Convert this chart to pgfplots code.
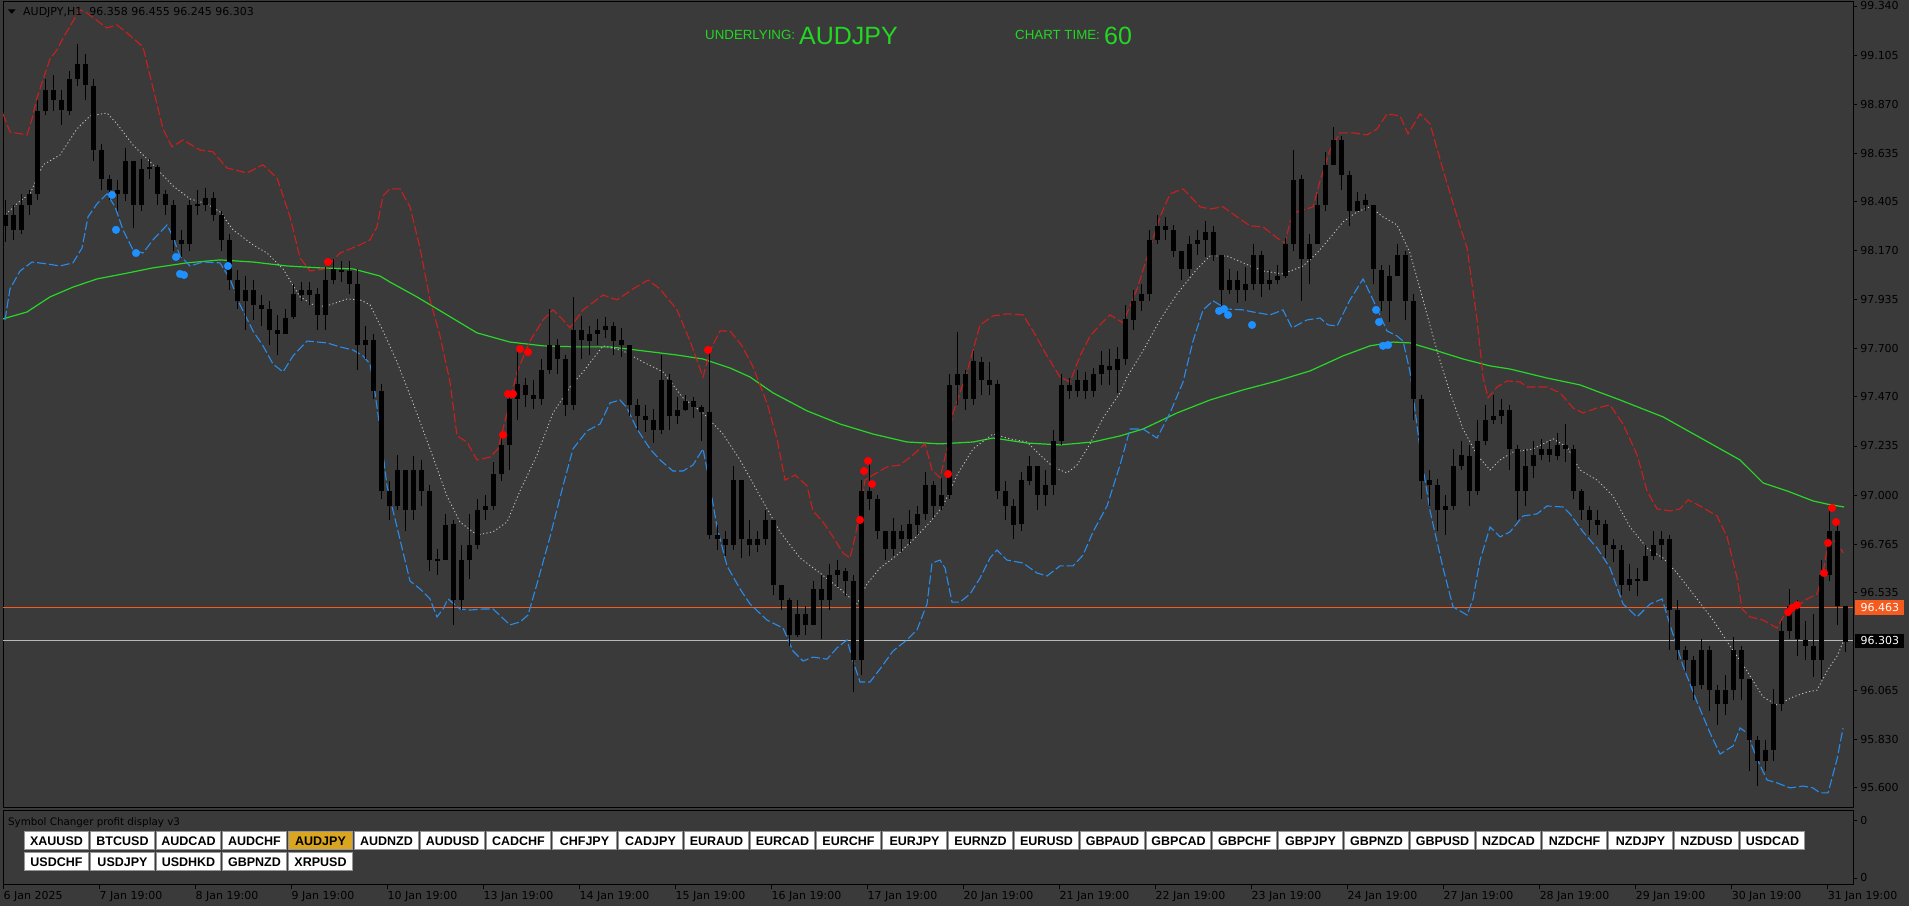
\documentclass[border=0pt]{standalone}
\usepackage{pgfplots}
\pgfplotsset{compat=1.18}
\usepackage{pgfplotstable}
\usepackage{fontspec}
\setmainfont{DejaVu Sans}
\newfontfamily\lib{Liberation Sans}
\definecolor{bg}{RGB}{58,58,58}
\definecolor{bandred}{RGB}{205,30,30}
\definecolor{bandblue}{RGB}{40,140,235}
\definecolor{midgray}{RGB}{190,190,190}
\definecolor{magreen}{RGB}{40,215,40}
\definecolor{hdrgreen}{RGB}{35,215,35}
\definecolor{dotred}{RGB}{255,0,0}
\definecolor{dotblue}{RGB}{30,144,255}
\definecolor{lineorange}{RGB}{245,90,30}
\definecolor{lineGray}{RGB}{185,185,185}
\definecolor{gold}{RGB}{218,165,32}
\definecolor{btnborder}{RGB}{150,150,150}

\pgfplotstableread{
i o h l c
0.5 98.29 98.41 98.21 98.34
2.5 98.34 98.39 98.22 98.27
4.5 98.27 98.44 98.25 98.39
6.5 98.39 98.46 98.34 98.44
8.5 98.44 98.89 98.41 98.84
10.5 98.84 98.99 98.82 98.94
12.5 98.94 99.01 98.84 98.89
14.5 98.89 98.94 98.77 98.84
16.5 98.84 99.03 98.82 98.99
18.5 98.99 99.16 98.96 99.06
20.5 99.06 99.11 98.89 98.96
22.5 98.96 98.99 98.60 98.65
24.5 98.65 98.68 98.46 98.51
26.5 98.51 98.53 98.41 98.46
28.5 98.46 98.51 98.36 98.44
30.5 98.44 98.66 98.41 98.60
32.5 98.60 98.60 98.28 98.39
34.5 98.39 98.61 98.36 98.56
36.5 98.56 98.61 98.51 98.57
38.5 98.57 98.58 98.39 98.44
40.5 98.44 98.46 98.34 98.39
42.5 98.39 98.41 98.17 98.22
44.5 98.22 98.27 98.14 98.20
46.5 98.20 98.41 98.17 98.39
48.5 98.39 98.46 98.34 98.39
50.5 98.39 98.47 98.36 98.42
52.5 98.42 98.45 98.31 98.34
54.5 98.34 98.36 98.17 98.22
56.5 98.22 98.25 97.98 98.03
58.5 98.03 98.08 97.89 97.93
60.5 97.93 98.05 97.79 97.98
62.5 97.98 98.03 97.84 97.91
64.5 97.91 97.96 97.81 97.89
66.5 97.89 97.93 97.72 97.79
68.5 97.79 97.86 97.67 97.77
70.5 97.77 97.89 97.77 97.85
72.5 97.85 98.01 97.84 97.96
74.5 97.96 98.02 97.93 97.98
76.5 97.98 98.02 97.91 97.96
78.5 97.96 97.99 97.79 97.86
80.5 97.86 98.09 97.79 98.03
82.5 98.03 98.13 98.01 98.08
84.5 98.08 98.12 98.02 98.07
86.5 98.07 98.12 97.96 98.01
88.5 98.01 98.08 97.60 97.72
90.5 97.72 97.81 97.65 97.74
92.5 97.74 97.77 97.46 97.50
94.5 97.50 97.53 96.98 97.02
96.5 97.02 97.07 96.88 96.95
98.5 96.95 97.19 96.93 97.12
100.5 97.12 97.12 96.83 96.93
102.5 96.93 97.19 96.88 97.12
104.5 97.12 97.17 96.95 97.02
106.5 97.02 97.05 96.64 96.69
108.5 96.69 96.74 96.62 96.69
110.5 96.69 96.91 96.69 96.86
112.5 96.86 96.88 96.38 96.50
114.5 96.50 96.76 96.45 96.69
116.5 96.69 96.91 96.60 96.76
118.5 96.76 96.98 96.74 96.93
120.5 96.93 97.00 96.88 96.95
122.5 96.95 97.16 96.93 97.10
124.5 97.10 97.29 97.07 97.24
126.5 97.24 97.50 97.12 97.46
128.5 97.46 97.70 97.36 97.53
130.5 97.53 97.56 97.42 97.48
132.5 97.48 97.55 97.41 97.46
134.5 97.46 97.65 97.43 97.60
136.5 97.60 97.89 97.58 97.72
138.5 97.72 97.75 97.58 97.65
140.5 97.65 97.67 97.38 97.43
142.5 97.43 97.95 97.41 97.79
144.5 97.79 97.86 97.65 97.74
146.5 97.74 97.81 97.67 97.77
148.5 97.77 97.84 97.72 97.79
150.5 97.79 97.85 97.75 97.81
152.5 97.81 97.83 97.67 97.74
154.5 97.74 97.80 97.66 97.72
156.5 97.72 97.72 97.38 97.43
158.5 97.43 97.46 97.31 97.38
160.5 97.38 97.43 97.30 97.36
162.5 97.36 97.41 97.25 97.31
164.5 97.31 97.67 97.29 97.55
166.5 97.55 97.58 97.31 97.38
168.5 97.38 97.47 97.34 97.41
170.5 97.41 97.48 97.40 97.45
172.5 97.45 97.47 97.37 97.42
174.5 97.42 97.43 97.26 97.40
176.5 97.40 97.69 96.79 96.81
178.5 96.81 96.86 96.74 96.79
180.5 96.79 96.83 96.71 96.76
182.5 96.76 97.14 96.74 97.07
184.5 97.07 97.07 96.70 96.79
186.5 96.79 96.88 96.71 96.76
188.5 96.76 96.83 96.73 96.79
190.5 96.79 96.93 96.76 96.88
192.5 96.88 96.88 96.52 96.57
194.5 96.57 96.57 96.45 96.50
196.5 96.50 96.51 96.28 96.33
198.5 96.33 96.50 96.32 96.43
200.5 96.43 96.47 96.33 96.38
202.5 96.38 96.59 96.38 96.55
204.5 96.55 96.62 96.31 96.50
206.5 96.50 96.67 96.45 96.62
208.5 96.62 96.69 96.56 96.64
210.5 96.64 96.65 96.52 96.59
212.5 96.59 96.62 96.06 96.21
214.5 96.21 97.07 96.14 97.02
216.5 97.02 97.16 96.93 96.98
218.5 96.98 97.00 96.79 96.83
220.5 96.83 96.83 96.69 96.74
222.5 96.74 96.89 96.71 96.83
224.5 96.83 96.86 96.73 96.79
226.5 96.79 96.93 96.76 96.86
228.5 96.86 96.95 96.81 96.91
230.5 96.91 97.11 96.88 97.05
232.5 97.05 97.07 96.89 96.95
234.5 96.95 97.08 96.93 97.00
236.5 97.00 97.58 96.98 97.53
238.5 97.53 97.78 97.43 97.58
240.5 97.58 97.60 97.41 97.46
242.5 97.46 97.69 97.43 97.64
244.5 97.64 97.66 97.48 97.55
246.5 97.55 97.64 97.48 97.53
248.5 97.53 97.55 96.98 97.02
250.5 97.02 97.07 96.88 96.95
252.5 96.95 96.98 96.79 96.86
254.5 96.86 97.11 96.83 97.07
256.5 97.07 97.19 97.05 97.14
258.5 97.14 97.14 96.93 97.00
260.5 97.00 97.12 96.95 97.05
262.5 97.05 97.31 97.00 97.26
264.5 97.26 97.58 97.24 97.53
266.5 97.53 97.56 97.46 97.50
268.5 97.50 97.60 97.47 97.55
270.5 97.55 97.59 97.46 97.50
272.5 97.50 97.61 97.47 97.58
274.5 97.58 97.69 97.53 97.62
276.5 97.62 97.70 97.53 97.60
278.5 97.60 97.71 97.49 97.65
280.5 97.65 97.91 97.62 97.84
282.5 97.84 97.98 97.79 97.93
284.5 97.93 98.01 97.88 97.96
286.5 97.96 98.27 97.93 98.22
288.5 98.22 98.34 98.20 98.29
290.5 98.29 98.33 98.22 98.27
292.5 98.27 98.29 98.14 98.17
294.5 98.17 98.17 98.03 98.08
296.5 98.08 98.24 98.05 98.20
298.5 98.20 98.27 98.15 98.22
300.5 98.22 98.31 98.14 98.26
302.5 98.26 98.29 98.12 98.15
304.5 98.15 98.15 97.89 97.98
306.5 97.98 98.08 97.96 98.03
308.5 98.03 98.07 97.92 97.98
310.5 97.98 98.09 97.93 98.01
312.5 98.01 98.20 97.98 98.15
314.5 98.15 98.17 97.95 98.01
316.5 98.01 98.08 97.98 98.03
318.5 98.03 98.10 98.01 98.05
320.5 98.05 98.23 98.04 98.20
322.5 98.20 98.65 98.17 98.51
324.5 98.51 98.53 97.93 98.13
326.5 98.13 98.25 98.01 98.20
328.5 98.20 98.44 98.20 98.39
330.5 98.39 98.64 98.36 98.58
332.5 98.58 98.76 98.58 98.70
334.5 98.70 98.72 98.46 98.53
336.5 98.53 98.55 98.29 98.36
338.5 98.36 98.45 98.36 98.41
340.5 98.41 98.44 98.36 98.39
342.5 98.39 98.39 98.01 98.08
344.5 98.08 98.10 97.88 97.93
346.5 97.93 98.10 97.83 98.05
348.5 98.05 98.20 98.05 98.15
350.5 98.15 98.17 97.84 97.93
352.5 97.93 97.96 97.36 97.46
354.5 97.46 97.48 96.98 97.07
356.5 97.07 97.12 96.95 97.05
358.5 97.05 97.08 96.83 96.93
360.5 96.93 97.00 96.81 96.95
362.5 96.95 97.22 96.93 97.14
364.5 97.14 97.26 97.12 97.19
366.5 97.19 97.24 96.95 97.02
368.5 97.02 97.36 97.00 97.26
370.5 97.26 97.43 97.24 97.36
372.5 97.36 97.48 97.34 97.38
374.5 97.38 97.46 97.34 97.41
376.5 97.41 97.43 97.12 97.22
378.5 97.22 97.24 96.88 97.02
380.5 97.02 97.22 96.95 97.14
382.5 97.14 97.26 97.08 97.19
384.5 97.19 97.27 97.17 97.22
386.5 97.22 97.26 97.16 97.19
388.5 97.19 97.30 97.17 97.24
390.5 97.24 97.34 97.16 97.22
392.5 97.22 97.24 96.98 97.02
394.5 97.02 97.03 96.88 96.93
396.5 96.93 96.95 96.81 96.88
398.5 96.88 96.93 96.81 96.86
400.5 96.86 96.88 96.70 96.76
402.5 96.76 96.79 96.68 96.74
404.5 96.74 96.76 96.52 96.57
406.5 96.57 96.67 96.54 96.60
408.5 96.60 96.65 96.52 96.59
410.5 96.59 96.76 96.59 96.71
412.5 96.71 96.83 96.69 96.76
414.5 96.76 96.83 96.69 96.79
416.5 96.79 96.81 96.26 96.45
418.5 96.45 96.50 96.21 96.26
420.5 96.26 96.28 96.16 96.21
422.5 96.21 96.23 96.02 96.09
424.5 96.09 96.31 96.07 96.26
426.5 96.26 96.28 95.97 96.07
428.5 96.07 96.09 95.90 96.00
430.5 96.00 96.14 95.95 96.07
432.5 96.07 96.32 96.02 96.26
434.5 96.26 96.28 96.02 96.12
436.5 96.12 96.12 95.68 95.83
438.5 95.83 95.85 95.61 95.73
440.5 95.73 95.83 95.68 95.78
442.5 95.78 96.07 95.73 96.00
444.5 96.00 96.40 95.97 96.35
446.5 96.35 96.55 96.31 96.47
448.5 96.47 96.50 96.23 96.31
450.5 96.31 96.40 96.21 96.28
452.5 96.28 96.43 96.13 96.21
454.5 96.21 96.69 96.12 96.62
456.5 96.62 96.95 96.59 96.83
458.5 96.83 96.88 96.38 96.47
460.5 96.47 96.47 96.25 96.30
}\candles

\begin{document}
\begin{tikzpicture}[x=1bp,y=1bp]
\fill[bg] (0,0) rectangle (1909,906);

% ---------------- main price window ----------------
\begin{axis}[at={(3bp,98bp)}, anchor=south west, scale only axis,
  width=1850bp, height=806bp,
  xmin=0, xmax=462.5, ymin=95.503, ymax=99.359,
  axis line style={black, line width=1bp},
  xtick=\empty,
  ytick={99.340,99.105,98.870,98.635,98.405,98.170,97.935,97.700,97.470,97.235,97.000,96.765,96.535,96.065,95.830,95.600},
  yticklabels={99.340,99.105,98.870,98.635,98.405,98.170,97.935,97.700,97.470,97.235,97.000,96.765,96.535,96.065,95.830,95.600},
  ytick pos=right, yticklabel pos=right, tick align=outside,
  major tick length=4bp, tick style={black, line width=0.8bp},
  yticklabel style={anchor=west, inner sep=0pt, xshift=3bp, text=black, font=\fontsize{11bp}{13bp}\selectfont},
  clip mode=individual]

% horizontal price lines
\addplot[lineorange, line width=1bp, forget plot] coordinates {(0,96.463) (462.5,96.463)};
\addplot[lineGray, line width=1bp, forget plot] coordinates {(0,96.303) (462.5,96.303)};

% moving average (green)
\addplot[magreen, line width=1.2bp] coordinates {
(0,97.843)(6,97.876)(11.75,97.948)(17.5,97.995)(23.5,98.034)(30,98.058)(37.5,98.087)(46,98.111)(54.25,98.125)(62.5,98.115)(71,98.096)(79.25,98.087)(87.5,98.082)(94.25,98.048)(96.75,98.019)(103.5,97.948)(111,97.862)(118.5,97.776)(126.75,97.732)(135,97.714)(143.5,97.709)(151.75,97.709)(160,97.690)(168.5,97.670)(175,97.651)(181.75,97.608)(186.75,97.565)(192.5,97.489)(201,97.403)(209.25,97.340)(217.5,97.292)(226,97.254)(234.25,97.245)(242.5,97.254)(247.5,97.273)(256,97.249)(264.25,97.240)(272.5,97.254)(279.25,97.283)(285,97.316)(293.5,97.393)(301.75,97.455)(310,97.503)(318.5,97.546)(326.75,97.594)(335,97.666)(341.75,97.714)(347.5,97.732)(351.75,97.728)(358.5,97.690)(365,97.651)(371.75,97.618)(376.75,97.603)(386,97.560)(394.25,97.527)(404.25,97.455)(415,97.374)(423.5,97.283)(434.25,97.168)(440,97.058)(446,97.020)(452.5,96.972)(456,96.957)(460.25,96.943)};

% middle band (gray dotted)
\addplot[midgray, line width=0.9bp, dash pattern=on 1.2bp off 2.4bp] coordinates {
(0,98.331)(4.25,98.407)(6.75,98.441)(10,98.580)(14.25,98.627)(18.5,98.752)(21.75,98.814)(26,98.828)(28.5,98.776)(32.5,98.675)(37.5,98.580)(42.5,98.479)(46.75,98.417)(51,98.393)(54.25,98.355)(57.5,98.269)(62.5,98.197)(66,98.158)(70,98.082)(74.25,97.948)(78.5,97.900)(81.75,97.910)(86,97.938)(89.25,97.934)(91.75,97.910)(95,97.785)(98.5,97.637)(102.5,97.441)(106.75,97.221)(111,96.995)(114.25,96.871)(118.5,96.809)(122.5,96.824)(126,96.871)(129.25,97.020)(133.5,97.192)(137.5,97.393)(141.75,97.517)(145,97.589)(150,97.714)(155,97.690)(160,97.637)(165,97.589)(170,97.465)(175,97.393)(180,97.292)(184.25,97.168)(189.25,96.995)(194.25,96.824)(199.25,96.699)(204.25,96.627)(209.25,96.551)(213.5,96.479)(216,96.575)(219.25,96.651)(223.5,96.713)(227.5,96.785)(231.75,96.871)(235,96.948)(238.5,97.096)(242.5,97.221)(247.5,97.292)(251.75,97.269)(256,97.254)(259.25,97.192)(262.5,97.135)(266,97.106)(268.5,97.144)(271.75,97.245)(275,97.369)(279.25,97.489)(281,97.565)(285,97.690)(289.25,97.838)(293.5,97.962)(298.5,98.082)(301.75,98.144)(306,98.144)(310,98.111)(315,98.072)(320,98.058)(325,98.096)(328.5,98.158)(331.75,98.230)(335,98.307)(338.5,98.355)(341.75,98.379)(345,98.331)(348.5,98.292)(351.75,98.158)(355,97.934)(358.5,97.690)(361.75,97.489)(365,97.316)(368.5,97.192)(371.75,97.120)(374.25,97.168)(377.5,97.206)(382.5,97.221)(387.5,97.269)(391,97.230)(394.25,97.120)(398.5,97.072)(402.5,96.995)(406.75,96.847)(411,96.747)(415,96.699)(418.5,96.627)(423.5,96.503)(427.5,96.402)(431.75,96.278)(436,96.158)(440,96.034)(443.5,95.996)(447.5,96.034)(451,96.058)(453.5,96.067)(456,96.158)(458.5,96.230)(460.25,96.307)};

% upper band (red dashed)
\addplot[bandred, line width=1.1bp, dash pattern=on 9bp off 3bp] coordinates {
(0,98.824)(1.75,98.737)(6,98.723)(7.25,98.800)(8.5,98.900)(11.75,99.087)(13.5,99.130)(14.75,99.178)(17.25,99.259)(19.25,99.321)(21,99.307)(24.25,99.259)(26,99.235)(28.5,99.249)(31,99.211)(35,99.144)(37.5,98.948)(40,98.752)(42.25,98.666)(45,98.699)(49.25,98.651)(52.5,98.642)(56,98.565)(61,98.541)(65,98.580)(68.5,98.517)(71.75,98.331)(74.25,98.135)(76.75,98.072)(80.5,98.082)(84.25,98.158)(89.25,98.197)(91.75,98.221)(93.5,98.283)(95,98.431)(96.75,98.465)(99.25,98.465)(101.75,98.379)(104.25,98.182)(106.75,97.934)(109.25,97.761)(111.75,97.541)(113.5,97.283)(116,97.254)(118.5,97.168)(121.75,97.182)(123.75,97.221)(126,97.393)(128.5,97.589)(131.75,97.737)(135,97.838)(137.5,97.886)(140,97.838)(141.75,97.800)(145,97.886)(150,97.957)(153.5,97.934)(157.5,97.986)(161.25,98.029)(164.25,97.986)(168.5,97.886)(171.75,97.737)(175,97.565)(176.75,97.690)(179.25,97.785)(181.75,97.785)(184.75,97.714)(187.5,97.613)(191,97.441)(193.5,97.269)(195.5,97.072)(198,97.096)(201,97.044)(202.5,96.924)(205,96.871)(207.5,96.800)(210,96.723)(211.75,96.699)(213,96.800)(214.25,96.924)(215.5,97.072)(217.5,97.096)(221,97.135)(224.25,97.144)(227.5,97.192)(230.5,97.245)(232.25,97.120)(234.25,97.082)(236,97.221)(237.5,97.393)(241,97.589)(244.25,97.814)(247.5,97.857)(251,97.867)(255,97.862)(257.5,97.785)(261,97.666)(264.25,97.565)(266.75,97.541)(269.25,97.666)(271.75,97.761)(274.25,97.814)(276.75,97.862)(280,97.824)(283.5,97.986)(286.75,98.182)(289.25,98.331)(291.75,98.441)(295,98.465)(296.75,98.431)(299.25,98.379)(301.75,98.369)(305,98.379)(308.5,98.331)(311.75,98.288)(315,98.283)(318.5,98.230)(320.5,98.206)(321.75,98.307)(323.5,98.355)(327.5,98.379)(329.25,98.503)(331.75,98.651)(334.25,98.733)(337.5,98.733)(341,98.723)(343.5,98.752)(346,98.824)(349.25,98.814)(351.25,98.728)(354.25,98.824)(356.75,98.776)(360,98.556)(363.5,98.331)(366,98.182)(368.5,97.838)(370,97.565)(371.25,97.465)(373.5,97.517)(376,97.546)(379.25,97.541)(381,97.517)(386,97.517)(389.25,97.489)(392.5,97.417)(395,97.393)(398.5,97.417)(401.75,97.431)(405,97.340)(408.5,97.192)(411,97.020)(413.5,96.934)(416.75,96.924)(419.25,96.934)(421.25,96.977)(424.25,96.948)(428.5,96.900)(431,96.800)(433.5,96.603)(434.75,96.455)(436.75,96.417)(440,96.402)(443.5,96.364)(445,96.417)(447.5,96.455)(451,96.503)(453.5,96.527)(455,96.627)(456.25,96.776)(458.5,96.780)(460,96.723)};

% lower band (blue dashed)
\addplot[bandblue, line width=1.1bp, dash pattern=on 9bp off 3bp] coordinates {
(0.5,97.838)(1.75,97.986)(4.25,98.072)(7.25,98.115)(11,98.106)(14.25,98.096)(17.5,98.111)(19.75,98.182)(21.25,98.331)(23.5,98.393)(26,98.441)(28,98.379)(30,98.269)(32.5,98.173)(35,98.158)(37.5,98.221)(41,98.292)(42.25,98.245)(44.25,98.144)(46.75,98.096)(50,98.115)(54.25,98.111)(56.75,98.034)(59.25,97.910)(62.5,97.785)(65,97.714)(67.5,97.627)(70,97.589)(72.5,97.666)(76,97.737)(81,97.728)(84.25,97.709)(87.5,97.694)(90,97.666)(91.75,97.627)(93,97.489)(94.25,97.316)(96,97.044)(98.5,96.847)(101.75,96.589)(104.25,96.551)(106.75,96.503)(108.5,96.417)(110,96.455)(111.25,96.503)(114.25,96.455)(116.75,96.450)(120,96.455)(122.5,96.455)(126.75,96.379)(129.25,96.393)(131.25,96.426)(133.5,96.575)(136.75,96.800)(140,97.044)(142.5,97.221)(146,97.307)(149.25,97.340)(151.75,97.441)(154.25,97.455)(156,97.417)(158.5,97.316)(161.75,97.221)(164.25,97.168)(167.5,97.115)(170,97.115)(172.5,97.144)(175,97.221)(176.25,97.096)(178.5,96.847)(181,96.661)(184.25,96.551)(186.75,96.479)(191,96.402)(195,96.364)(197.5,96.254)(200,96.206)(202.5,96.225)(206,96.215)(208.5,96.269)(211,96.307)(212.5,96.206)(214.25,96.106)(216.75,96.106)(219.25,96.168)(222.5,96.254)(226,96.307)(228.5,96.355)(231,96.479)(232.25,96.675)(234.25,96.689)(235.5,96.651)(237.25,96.488)(239.25,96.488)(241.75,96.527)(244.25,96.603)(246.75,96.699)(248.5,96.737)(251,96.689)(255,96.675)(258.5,96.627)(261,96.613)(264.25,96.661)(267.5,96.661)(270,96.713)(272.5,96.824)(276,96.948)(279.25,97.144)(281.75,97.316)(285,97.316)(288.5,97.273)(291.75,97.393)(295,97.541)(297.5,97.737)(300,97.886)(302.5,97.929)(306,97.890)(310,97.886)(312.5,97.876)(316.75,97.862)(320,97.886)(322.25,97.800)(326,97.838)(329.25,97.847)(331.25,97.814)(333.5,97.809)(336.75,97.934)(340,98.034)(342.5,97.934)(346,97.785)(348.5,97.761)(350,97.737)(351.75,97.589)(354.25,97.221)(356.75,96.924)(360,96.651)(362.5,96.465)(366,96.426)(367.5,96.503)(369.25,96.689)(371.75,96.847)(374.25,96.800)(376.75,96.824)(380,96.900)(383.5,96.910)(386,96.948)(390,96.943)(391.75,96.910)(395,96.824)(398.5,96.747)(401.75,96.651)(405,96.479)(408.5,96.417)(411.75,96.479)(414.75,96.503)(416.75,96.379)(420,96.182)(423.5,96.010)(426.75,95.862)(429.25,95.761)(432.5,95.800)(434.25,95.886)(436,95.862)(438.5,95.737)(441,95.637)(443.5,95.623)(446.75,95.599)(450,95.608)(452.5,95.599)(454.25,95.575)(456.25,95.575)(458.5,95.737)(460,95.886)};

% candle wicks
\addplot[forget plot, draw=none, mark=none,
  error bars/.cd, y dir=both, y explicit, error mark=none,
  error bar style={draw=black, line width=1bp}]
  table[x=i, y expr={(\thisrow{h}+\thisrow{l})/2}, y error expr={(\thisrow{h}-\thisrow{l})/2}]{\candles};
% candle bodies
\addplot[forget plot, draw=none, mark=none,
  error bars/.cd, y dir=both, y explicit, error mark=none,
  error bar style={draw=black, line width=5bp}]
  table[x=i, y expr={(\thisrow{o}+\thisrow{c})/2}, y error expr={max(abs(\thisrow{o}-\thisrow{c})/2,0.004)}]{\candles};

% signal dots
\addplot[only marks, mark=*, mark size=3.8bp, mark options={draw=dotred, fill=dotred}] coordinates {
(81.25,98.115)(125,97.288)(126.25,97.484)(127.5,97.484)(129.25,97.699)(131.25,97.684)(176.25,97.694)(214.25,96.881)(215.25,97.115)(216.25,97.163)(217.25,97.053)(236.25,97.101)(446.25,96.440)(447.25,96.460)(448.5,96.474)(455.25,96.627)(456.25,96.771)(457.25,96.938)(458.25,96.871)};
\addplot[only marks, mark=*, mark size=3.8bp, mark options={draw=dotblue, fill=dotblue}] coordinates {
(27.25,98.436)(28.25,98.269)(33.25,98.158)(43.25,98.139)(44.25,98.058)(45.25,98.053)(56.25,98.096)(304,97.881)(305.25,97.890)(306.25,97.862)(312.25,97.814)(343.25,97.886)(344,97.828)(345,97.714)(346.25,97.718)};

% price labels
\node[anchor=west, xshift=2bp, fill=lineorange, text=white, inner sep=0pt, minimum width=49bp, minimum height=15bp, font=\fontsize{11bp}{13bp}\selectfont] at (axis cs:462.5,96.463) {96.463};
\node[anchor=west, xshift=2bp, fill=black, text=white, inner sep=0pt, minimum width=49bp, minimum height=14bp, font=\fontsize{11bp}{13bp}\selectfont] at (axis cs:462.5,96.303) {96.303};
\end{axis}

% ---------------- sub window ----------------
\begin{axis}[at={(3bp,21bp)}, anchor=south west, scale only axis,
  width=1850bp, height=74bp,
  xmin=0, xmax=462.5, ymin=0, ymax=1,
  axis line style={black, line width=1bp},
  xtick={0,24,48,72,96,120,144,168,192,216,240,264,288,312,336,360,384,408,432,456},
  xticklabels={6 Jan 2025,7 Jan 19:00,8 Jan 19:00,9 Jan 19:00,10 Jan 19:00,13 Jan 19:00,14 Jan 19:00,15 Jan 19:00,16 Jan 19:00,17 Jan 19:00,20 Jan 19:00,21 Jan 19:00,22 Jan 19:00,23 Jan 19:00,24 Jan 19:00,27 Jan 19:00,28 Jan 19:00,29 Jan 19:00,30 Jan 19:00,31 Jan 19:00},
  xtick pos=bottom, xticklabel pos=bottom,
  ytick={0.095,0.878}, yticklabels={0,0},
  ytick pos=right, yticklabel pos=right,
  tick align=outside, major tick length=4bp, tick style={black, line width=0.8bp},
  xticklabel style={anchor=north west, inner sep=0pt, xshift=0.5bp, yshift=-2bp, text=black, font=\fontsize{11bp}{13bp}\selectfont},
  yticklabel style={anchor=west, inner sep=0pt, xshift=3bp, text=black, font=\fontsize{11bp}{13bp}\selectfont}]
\addplot[draw=none, forget plot] coordinates {(0,0) (1,1)};
\end{axis}

% ---------------- texts ----------------
\fill[black] (8,896.5) -- (15.5,896.5) -- (11.75,892.2) -- cycle;
\node[anchor=base west, inner sep=0pt, text=black, font=\fontsize{11bp}{13bp}\selectfont] at (23,890) {AUDJPY,H1\ \ 96.358 96.455 96.245 96.303};

\node[anchor=base west, inner sep=0pt, text=hdrgreen, font=\lib\fontsize{13.3bp}{15bp}\selectfont] at (705,866) {UNDERLYING:};
\node[anchor=base west, inner sep=0pt, text=hdrgreen, font=\lib\fontsize{25bp}{28bp}\selectfont] at (799,861) {AUDJPY};
\node[anchor=base west, inner sep=0pt, text=hdrgreen, font=\lib\fontsize{13.3bp}{15bp}\selectfont] at (1015,866) {CHART TIME:};
\node[anchor=base west, inner sep=0pt, text=hdrgreen, font=\lib\fontsize{25bp}{28bp}\selectfont] at (1104,861) {60};

\node[anchor=base west, inner sep=0pt, text=black, font=\fontsize{10.3bp}{12bp}\selectfont] at (8,80) {Symbol Changer profit display v3};

\tikzset{btn/.style={minimum width=64bp, minimum height=18bp, inner sep=0pt, fill=white, draw=btnborder, line width=1bp, text=black, font=\lib\bfseries\fontsize{12.5bp}{14bp}\selectfont}}
\foreach \n [count=\j from 0] in {XAUUSD,BTCUSD,AUDCAD,AUDCHF,AUDJPY,AUDNZD,AUDUSD,CADCHF,CHFJPY,CADJPY,EURAUD,EURCAD,EURCHF,EURJPY,EURNZD,EURUSD,GBPAUD,GBPCAD,GBPCHF,GBPJPY,GBPNZD,GBPUSD,NZDCAD,NZDCHF,NZDJPY,NZDUSD,USDCAD}
  {\node[btn] at ({56.5+66*\j},65) {\n};}
\node[btn, fill=gold] at ({56.5+66*4},65) {AUDJPY};
\foreach \n [count=\j from 0] in {USDCHF,USDJPY,USDHKD,GBPNZD,XRPUSD}
  {\node[btn] at ({56.5+66*\j},44) {\n};}

\pgfresetboundingbox
\useasboundingbox (0,0) rectangle (1909,906);
\end{tikzpicture}
\end{document}
